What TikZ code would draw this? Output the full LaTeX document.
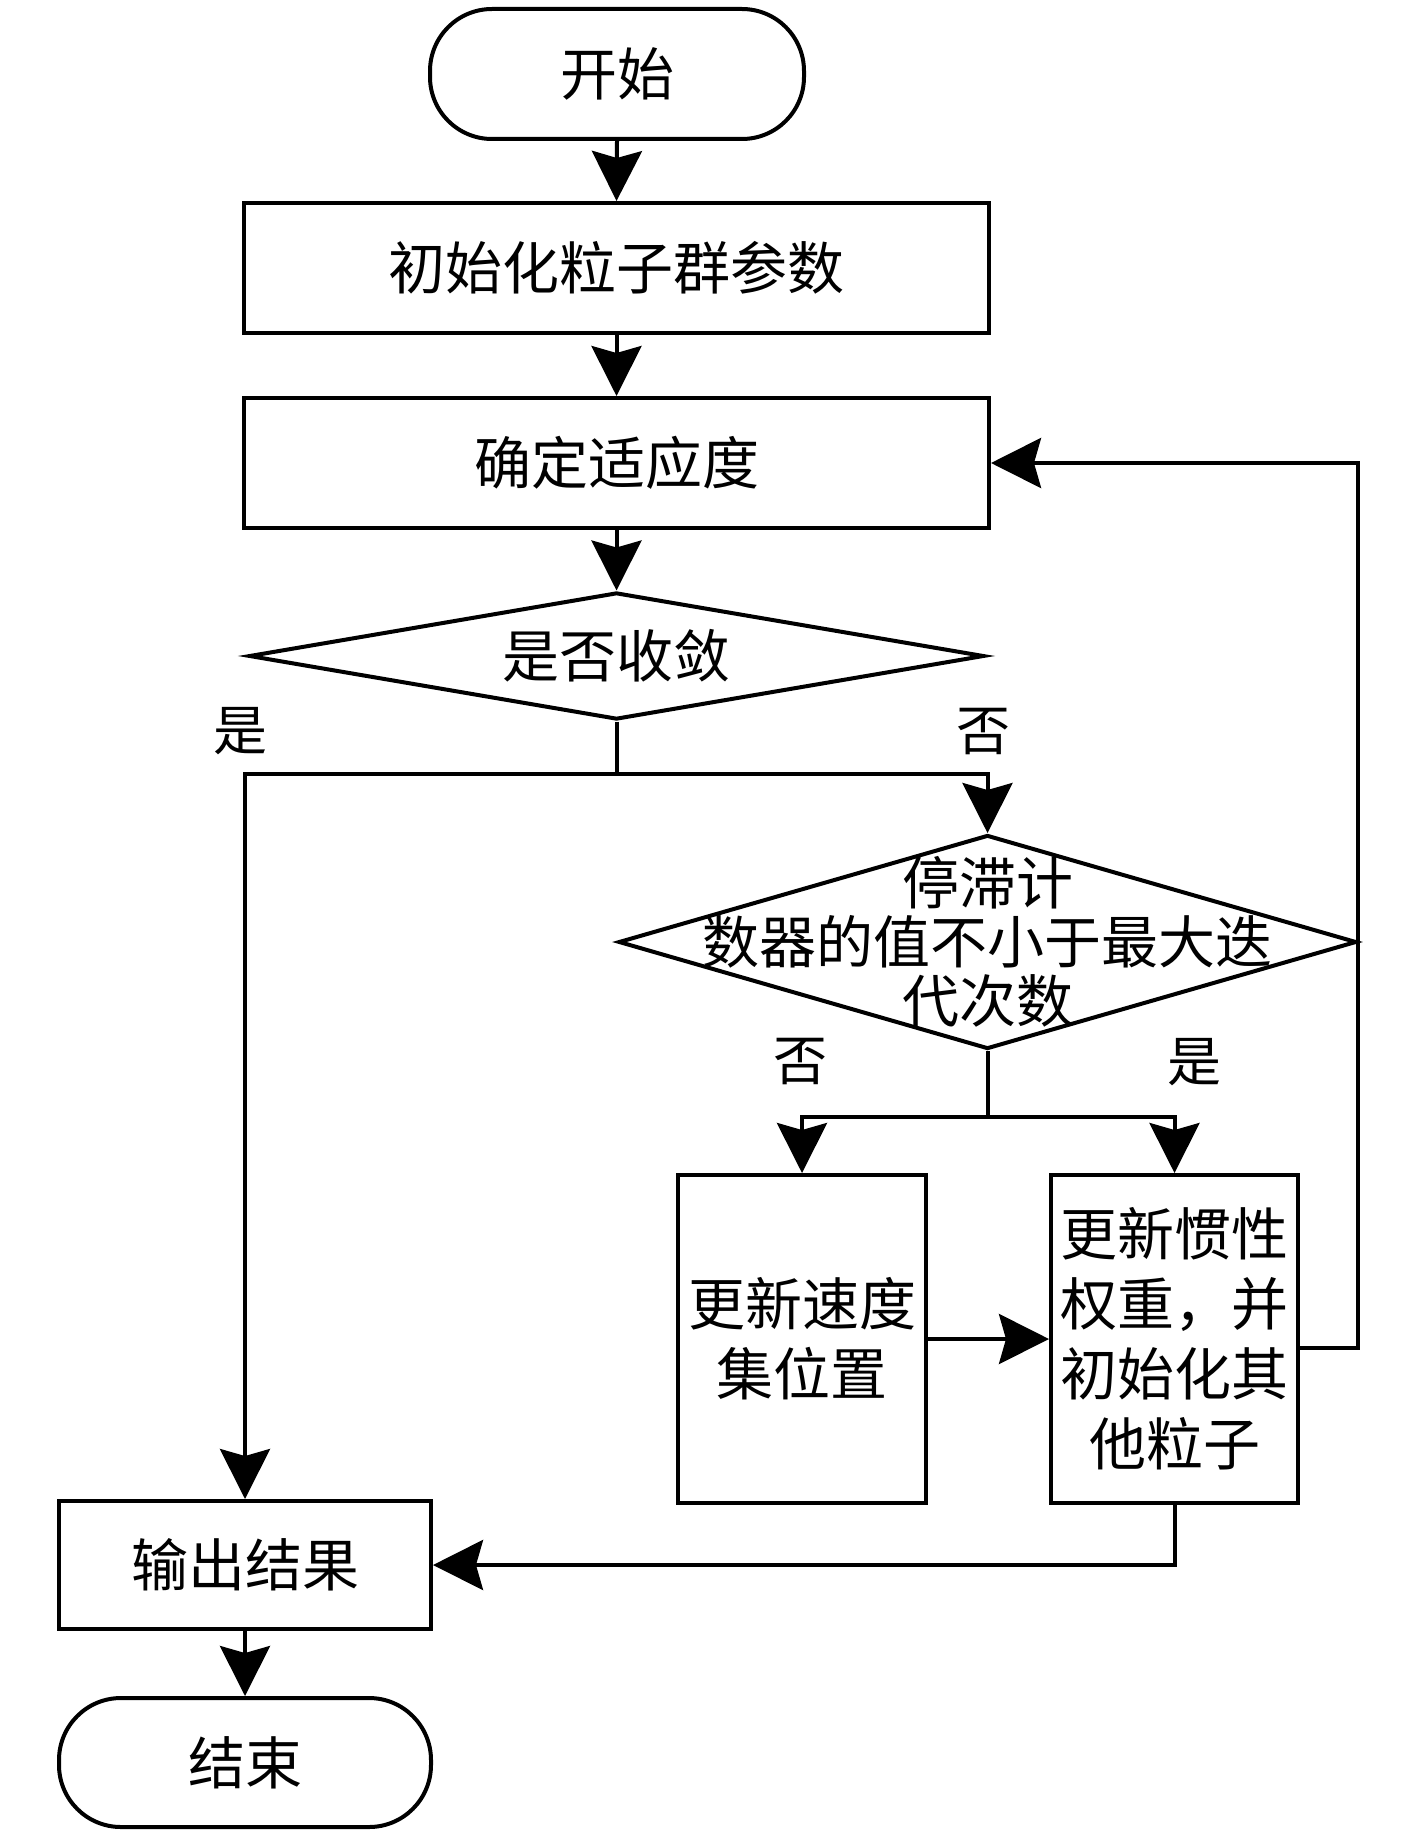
\documentclass[tikz,border=0pt]{standalone}
\usepackage{fontspec}
\setmainfont{Noto Sans CJK SC}
\usetikzlibrary{shapes.geometric,arrows.meta}
\begin{document}
\begin{tikzpicture}[x=1pt,y=-1pt,
  txt/.style={font=\fontsize{57}{70}\selectfont, align=center, inner sep=0pt},
  dtxt/.style={font=\fontsize{57}{59}\selectfont, align=center, inner sep=0pt},
  lbl/.style={font=\fontsize{54}{60}\selectfont, inner sep=0pt},
  proc/.style={draw, line width=4pt, rectangle, inner sep=0pt, txt},
  term/.style={draw, line width=4pt, rectangle, rounded corners=62pt, inner sep=0pt, txt},
  dec/.style={draw, line width=4pt, diamond, inner sep=0pt},
  conn/.style={line width=4pt, -{Stealth[length=50pt,width=50pt,inset=7pt]}}]
\useasboundingbox (0,0) rectangle (1417,1838);
% nodes
\node[term, minimum width=374pt, minimum height=130pt] (start) at (617,74) {开始};
\node[proc, minimum width=745pt, minimum height=130pt] (b1) at (616.5,268) {初始化粒子群参数};
\node[proc, minimum width=745pt, minimum height=130pt] (b2) at (616.5,463) {确定适应度};
\node[dec, minimum width=735pt, minimum height=127pt] (d1) at (616.5,656) {};
\node[txt] (d1t) at (d1.center) {是否收敛};
\node[dec, minimum width=738pt, minimum height=214pt] (d2) at (987.5,942) {};
\node[dtxt] (d2t) at (d2.center) {停滞计\\数器的值不小于最大迭\\代次数};
\node[proc, minimum width=248pt, minimum height=328pt] (b3) at (802,1339) {更新速度\\集位置};
\node[proc, minimum width=247pt, minimum height=328pt] (b4) at (1174.5,1339) {更新惯性\\权重，并\\初始化其\\他粒子};
\node[proc, minimum width=372pt, minimum height=128pt] (out) at (245,1565) {输出结果};
\node[term, minimum width=372pt, minimum height=129pt] (end) at (245,1762.5) {结束};
% labels
\node[lbl] (l1) at (240,731) {是};
\node[lbl] (l2) at (983,732) {否};
\node[lbl] (l3) at (800,1062) {否};
\node[lbl] (l4) at (1194,1062) {是};
% junctions
\coordinate (j1) at (616.5,774);
\coordinate (j2) at (987.5,1117);
\coordinate (lp) at (1358,1348);
% connectors
\draw[conn] (start.south) -- (b1.north);
\draw[conn] (b1.south) -- (b2.north);
\draw[conn] (b2.south) -- (d1.north);
\draw[conn] (d1.south) -- (j1) -| (out.north);
\draw[conn] (j1) -| (d2.north);
\draw[conn] (d2.south) -- (j2) -| (b3.north);
\draw[conn] (j2) -| (b4.north);
\draw[conn] (b3.east) -- (b4.west);
\draw[conn] (b4.east |- lp) -- (lp) |- (b2.east);
\draw[conn] (b4.south) |- (out.east);
\draw[conn] (out.south) -- (end.north);
\end{tikzpicture}
\end{document}
